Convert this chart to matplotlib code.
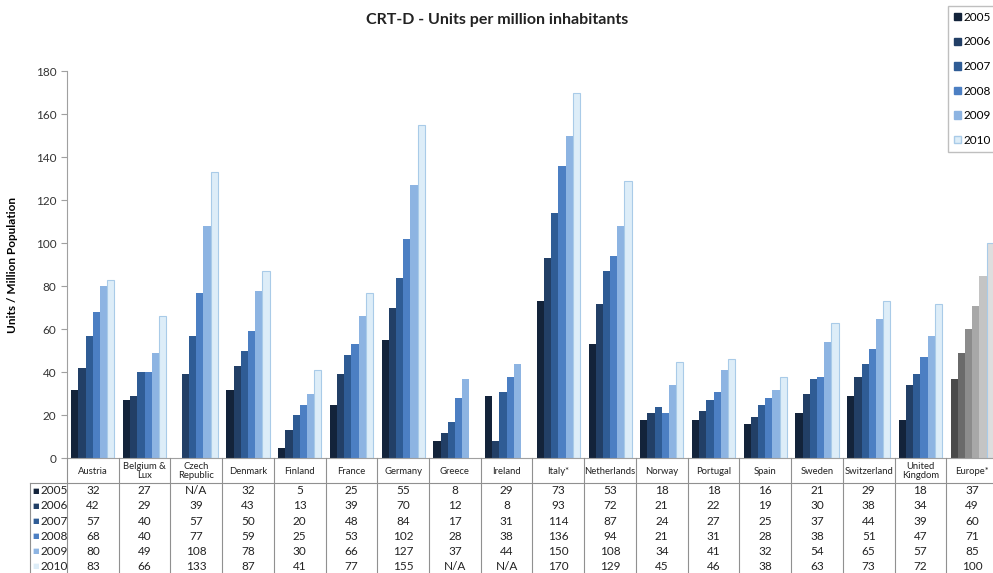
import numpy as np
import matplotlib
matplotlib.use("Agg")
from matplotlib import pyplot as plt
from matplotlib.patches import Patch

plt.rcParams['font.family'] = ['Lato', 'DejaVu Sans']

countries = ["Austria", "Belgium &\nLux", "Czech\nRepublic", "Denmark", "Finland", "France",
             "Germany", "Greece", "Ireland", "Italy*", "Netherlands", "Norway", "Portugal",
             "Spain", "Sweden", "Switzerland", "United\nKingdom", "Europe*"]
years = ["2005", "2006", "2007", "2008", "2009", "2010"]
nan = np.nan
v2005 = [32, 27, nan, 32, 5, 25, 55, 8, 29, 73, 53, 18, 18, 16, 21, 29, 18, 37]
v2006 = [42, 29, 39, 43, 13, 39, 70, 12, 8, 93, 72, 21, 22, 19, 30, 38, 34, 49]
v2007 = [57, 40, 57, 50, 20, 48, 84, 17, 31, 114, 87, 24, 27, 25, 37, 44, 39, 60]
v2008 = [68, 40, 77, 59, 25, 53, 102, 28, 38, 136, 94, 21, 31, 28, 38, 51, 47, 71]
v2009 = [80, 49, 108, 78, 30, 66, 127, 37, 44, 150, 108, 34, 41, 32, 54, 65, 57, 85]
v2010 = [83, 66, 133, 87, 41, 77, 155, nan, nan, 170, 129, 45, 46, 38, 63, 73, 72, 100]
values = [v2005, v2006, v2007, v2008, v2009, v2010]

blues = ["#13233a", "#223f66", "#2f5c95", "#4c7fc3", "#8db4e2", "#ddedf8"]
greys = ["#4a4a4a", "#6a6a6a", "#8c8c8c", "#a8a8a8", "#c4c4c4", "#dedede"]

W, H = 993, 573
fig = plt.figure(figsize=(W / 100, H / 100), dpi=100)

# main axes: pixel box x 67..998, y 71..458
ax = fig.add_axes([67 / W, (H - 458.3) / H, 931 / W, 387 / H])
x = np.arange(len(countries))
bw = 0.139
n = len(countries)
for i, yr in enumerate(years):
    cols = [blues[i]] * (n - 1) + [greys[i]]
    edge = "#a9cbe8" if i == 5 else cols
    ax.bar(x + (i - 2.5) * bw, values[i], width=bw, color=cols,
           edgecolor=edge, linewidth=0.8 if i == 5 else 0)
ax.set_xlim(-0.5, n - 0.5)
ax.set_ylim(0, 180)
ax.set_yticks(np.arange(0, 181, 20))
ax.set_xticks([])
for s in ["top", "right"]:
    ax.spines[s].set_visible(False)
ax.spines["left"].set_color("#a0a0a0")
ax.spines["bottom"].set_color("#a0a0a0")
ax.tick_params(axis="y", length=4, color="#a0a0a0", labelsize=8.5, labelcolor="#333333")
ax.set_ylabel("Units / Million Population", fontsize=8.5, fontweight="bold", labelpad=14)
ax.yaxis.set_label_coords(-0.053, 0.5)

fig.text(497 / W, 1 - 20 / H, "CRT-D - Units per million inhabitants", ha="center",
         va="center", fontsize=11.5, fontweight="bold", color="#222222")

# data table under the chart, y in pixels below the axis line
tx = fig.add_axes([67 / W, 0, 931 / W, (H - 458.3) / H])
tx.set_xlim(-0.5, n - 0.5)
tx.set_ylim(H - 458.3, 0)
tx.axis("off")
lc = "#909090"
row_h = 15.1
head_b = 25
left = -0.5 - 37 / 51.7
tx.plot([left, n - 0.5], [head_b, head_b], color=lc, lw=0.8, clip_on=False)
tx.plot([left, left], [head_b, H], color=lc, lw=0.8, clip_on=False)
tx.plot([-0.5, -0.5], [0, H], color=lc, lw=0.8, clip_on=False)
for k in range(1, n):
    tx.plot([k - 0.5, k - 0.5], [0, H], color=lc, lw=0.8, clip_on=False)
for k, c in enumerate(countries):
    tx.text(k, head_b / 2 + 0.5, c, ha="center", va="center", fontsize=6.8,
            color="#222222", linespacing=0.95)
for i, yr in enumerate(years):
    yy = head_b + row_h * (i + 0.5)
    tx.text(left + 0.05, yy, "\u25a0", ha="left", va="center", fontsize=5,
            color=blues[i], family="DejaVu Sans", clip_on=False)
    tx.text(left + 0.2, yy, yr, ha="left", va="center", fontsize=8.5,
            color="#222222", clip_on=False)
    for k in range(n):
        v = values[i][k]
        s = "N/A" if np.isnan(v) else "%d" % v
        tx.text(k, yy, s, ha="center", va="center", fontsize=8.5, color="#222222")

handles = [Patch(facecolor=blues[i], edgecolor="#a9cbe8" if i == 5 else blues[i], label=yr)
           for i, yr in enumerate(years)]
fig.legend(handles=handles, loc="upper left", bbox_to_anchor=(948 / W, 1 - 6 / H),
           fontsize=8.5, handlelength=0.6, handleheight=0.6, handletextpad=0.25,
           labelspacing=1.15, frameon=True, fancybox=False, edgecolor="#b0b0b0",
           borderpad=0.5, borderaxespad=0)

fig.savefig("out.png", dpi=100)
